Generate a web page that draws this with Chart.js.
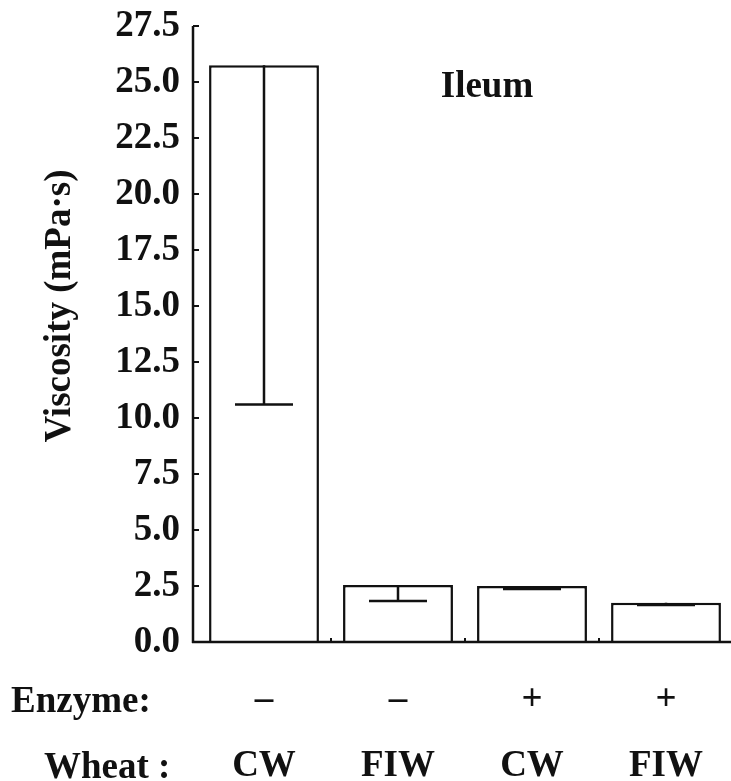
<!DOCTYPE html>
<html>
<head>
<meta charset="utf-8">
<script src="https://cdn.jsdelivr.net/npm/chart.js@4.4.1/dist/chart.umd.min.js"></script>
<style>
  html, body { margin: 0; padding: 0; background: #fff; overflow: hidden; }
  canvas { display: block; }
</style>
</head>
<body>
<canvas id="viscChart" width="733" height="781"></canvas>
<script>
// treatments, left to right
const wheat = ['CW', 'FIW', 'CW', 'FIW'];
const enzyme = ['–', '–', '+', '+'];
// ileal digesta viscosity, mean and SD (mPa·s)
const viscosity = [25.75, 2.55, 2.5, 1.75];
const viscositySd = [15.15, 0.72, 0.13, 0.1];
// y axis range
const yMax = 27.5;
const yStep = 2.5;

const axisTitle = 'Viscosity (mPa·s)';
const panelLabel = 'Ileum';
const rowNames = ['Enzyme:', 'Wheat :'];

const ink = '#111';
const serif = '"Liberation Serif", "Times New Roman", serif';
const fontSize = 37;

const extras = {
  id: 'extras',
  afterDatasetsDraw(chart) {
    const ctx = chart.ctx;
    const x = chart.scales.x;
    const y = chart.scales.y;
    const area = chart.chartArea;
    ctx.save();
    ctx.strokeStyle = ink;

    // error bars, lower half only
    ctx.lineWidth = 2.5;
    viscosity.forEach(function(v, i) {
      const cx = x.getPixelForValue(i);
      const top = y.getPixelForValue(v);
      const bot = y.getPixelForValue(v - viscositySd[i]);
      ctx.beginPath();
      ctx.moveTo(cx, top);
      ctx.lineTo(cx, bot);
      ctx.moveTo(cx - 29, bot);
      ctx.lineTo(cx + 29, bot);
      ctx.stroke();
    });

    // axis lines
    const ax = area.left - 4;
    ctx.beginPath();
    ctx.moveTo(ax, area.top);
    ctx.lineTo(ax, area.bottom + 1);
    ctx.moveTo(ax - 1, area.bottom);
    ctx.lineTo(chart.width, area.bottom);
    ctx.stroke();

    // inward tick marks
    ctx.lineWidth = 2;
    y.ticks.forEach(function(t, i) {
      const py = y.getPixelForTick(i);
      ctx.beginPath();
      ctx.moveTo(ax, py);
      ctx.lineTo(ax + 6, py);
      ctx.stroke();
    });
    for (let i = 1; i < wheat.length; i++) {
      const px = (x.getPixelForValue(i - 1) + x.getPixelForValue(i)) / 2;
      ctx.beginPath();
      ctx.moveTo(px, area.bottom);
      ctx.lineTo(px, area.bottom - 4);
      ctx.stroke();
    }

    // texts
    ctx.fillStyle = ink;
    ctx.font = 'bold ' + fontSize + 'px ' + serif;
    ctx.textBaseline = 'alphabetic';
    ctx.textAlign = 'center';
    ctx.fillText(panelLabel, 487, 97);

    ctx.textAlign = 'left';
    ctx.fillText(rowNames[0], 11, 712);
    ctx.fillText(rowNames[1], 44, 778);

    ctx.save();
    ctx.translate(70, 306);
    ctx.rotate(-Math.PI / 2);
    ctx.textAlign = 'center';
    ctx.fillText(axisTitle, 0, 0);
    ctx.restore();

    ctx.restore();
  }
};

const data = {
  labels: wheat,
  datasets: [{
    data: viscosity,
    backgroundColor: '#fff',
    borderColor: ink,
    borderWidth: 2.5,
    barPercentage: 0.82,
    categoryPercentage: 1
  }]
};

const config = {
  type: 'bar',
  data,
  options: {
    responsive: false,
    animation: false,
    layout: { padding: { top: 26, right: 0, bottom: 0, left: 0 } },
    plugins: {
      legend: { display: false },
      tooltip: { enabled: false }
    },
    scales: {
      x: {
        grid: { display: false, drawTicks: false },
        border: { display: false },
        afterFit: function(scale) {
          scale.height = 139;
          scale.paddingLeft = 0;
          scale.paddingRight = 0;
        },
        ticks: {
          color: ink,
          padding: 25,
          font: { family: serif, size: fontSize, weight: 'bold', lineHeight: 66 / fontSize },
          callback: function(value, i) { return [enzyme[i], wheat[i]]; }
        }
      },
      y: {
        min: 0,
        max: yMax,
        grid: { display: false, drawTicks: false },
        border: { display: false },
        afterFit: function(scale) {
          scale.width = 197;
          scale.paddingTop = 0;
          scale.paddingBottom = 0;
        },
        ticks: {
          stepSize: yStep,
          color: ink,
          padding: 17,
          font: { family: serif, size: fontSize, weight: 'bold' },
          callback: function(v) { return v.toFixed(1); }
        }
      }
    }
  },
  plugins: [extras]
};

new Chart(document.getElementById('viscChart'), config);
</script>
</body>
</html>
